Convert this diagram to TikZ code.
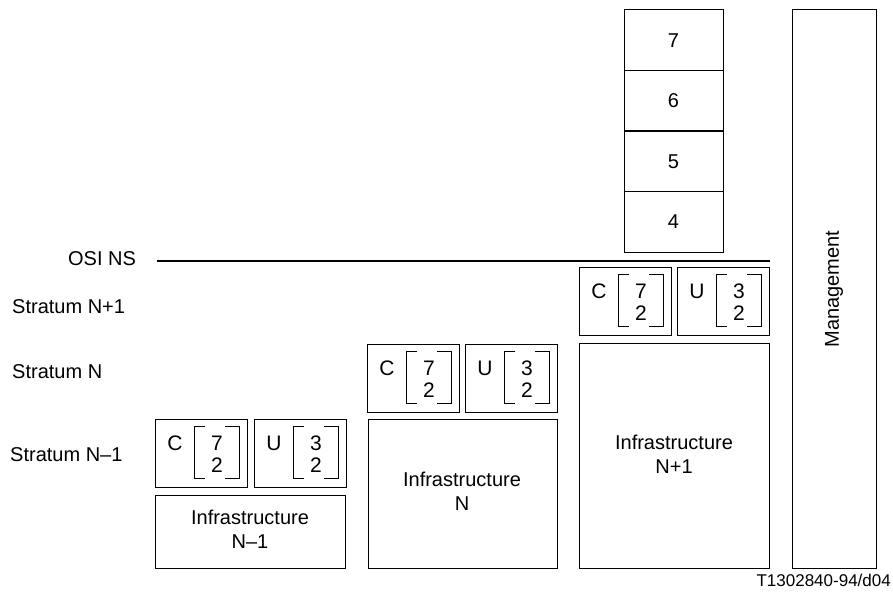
\documentclass[tikz,border=0pt]{standalone}
\usepackage{fontspec}
\setmainfont{Liberation Sans}
\newcommand\cuunit[4]{% #1 name, #2 position, #3 letter, #4 top digit
  \node[box, minimum width=92pt, minimum height=68pt] (#1) at (#2) {};
  \node[btxt] (#1-l) at ([shift={(20,24)}]#1.north west) {#3};
  \node[btxt] (#1-a) at ([shift={(62,24)}]#1.north west) {#4};
  \node[btxt] (#1-b) at ([shift={(62,46)}]#1.north west) {2};
  \draw[brk] ([shift={(50,7)}]#1.north west) -- ++(-11,0) -- ++(0,52) -- ++(11,0);
  \draw[brk] ([shift={(70,7)}]#1.north west) -- ++(14,0) -- ++(0,52) -- ++(-14,0);
}
\begin{document}
\begin{tikzpicture}[x=1pt,y=-1pt,
  box/.style={draw, line width=1pt, inner sep=0pt, outer sep=0pt, anchor=north west},
  layer/.style={inner sep=0pt, outer sep=0pt, anchor=north west, minimum width=99pt, minimum height=60.5pt},
  txt/.style={font=\fontsize{20}{24}\selectfont, inner sep=0pt},
  btxt/.style={font=\fontsize{21}{24}\selectfont, inner sep=0pt},
  brk/.style={line width=1pt},
  sep/.style={line width=1.6pt},
  osiline/.style={line width=1.6pt}]
\useasboundingbox (0,0) rectangle (893,594);
% layer stack
\node[layer] (l7) at (624,10) {};
\node[layer] (l6) at (624,70.5) {};
\node[layer] (l5) at (624,131) {};
\node[layer] (l4) at (624,191.5) {};
\draw[line width=1pt] (l7.north west) rectangle (l4.south east);
\draw[sep] (l7.south west) -- (l7.south east);
\draw[sep] (l6.south west) -- (l6.south east);
\draw[sep] (l5.south west) -- (l5.south east);
\node[txt] (t7) at (l7.center) {7};
\node[txt] (t6) at (l6.center) {6};
\node[txt] (t5) at (l5.center) {5};
\node[txt] (t4) at (l4.center) {4};
% management
\node[box, minimum width=84pt, minimum height=558pt] (mgmt) at (792,10) {};
\node[txt, rotate=90] (mgmtl) at (834,289) {Management};
% OSI NS
\node[txt] (osi) at (102,259) {OSI NS};
\coordinate (osiR) at (770,261);
\draw[osiline] ([xshift=21pt]osi.east |- osiR) -- (osiR);
% stratum labels
\node[txt, anchor=west] (s1) at (12,307) {Stratum N+1};
\node[txt, anchor=west] (s0) at (12,372) {Stratum N};
\node[txt, anchor=west] (sm) at (10,455) {Stratum N–1};
% C/U units
\cuunit{cm}{155,419}{C}{7}
\cuunit{um}{254,419}{U}{3}
\cuunit{c0}{367,344}{C}{7}
\cuunit{u0}{465,344}{U}{3}
\cuunit{c1}{579,267}{C}{7}
\cuunit{u1}{677,267}{U}{3}
% infrastructures
\node[box, minimum width=190pt, minimum height=73pt] (im) at (155,495) {};
\node[txt, align=center] (iml) at (250,529) {Infrastructure\\N–1};
\node[box, minimum width=189pt, minimum height=149pt] (i0) at (368,419) {};
\node[txt, align=center] (i0l) at (462,491) {Infrastructure\\N};
\node[box, minimum width=190pt, minimum height=225pt] (i1) at (579,343) {};
\node[txt, align=center] (i1l) at (674,454) {Infrastructure\\N+1};
% figure id
\node[font=\fontsize{17}{20}\selectfont, inner sep=0pt, anchor=east] (fid) at (891,580) {T1302840-94/d04};
\end{tikzpicture}
\end{document}
